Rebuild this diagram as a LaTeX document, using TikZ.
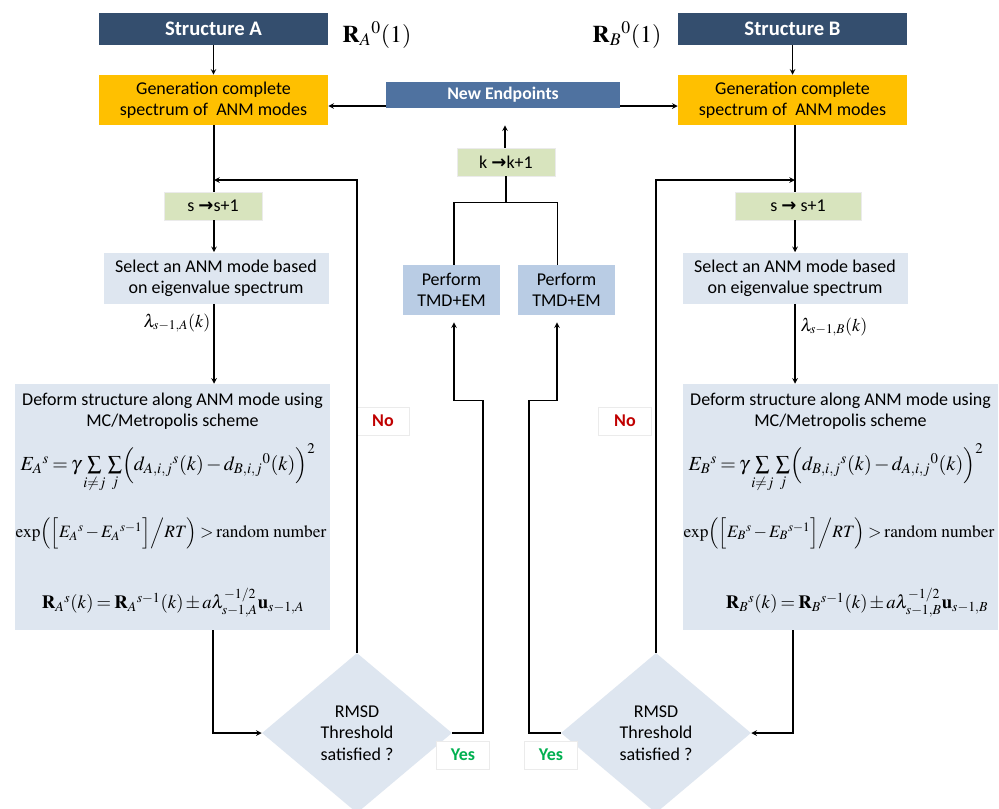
\documentclass[tikz,border=0pt]{standalone}
\usepackage{amsmath}
\usepackage{mathptmx}
\usepackage[no-math]{fontspec}
\setmainfont{Carlito}
\newfontfamily\arrowfont{DejaVu Sans}
\usepackage{tikz}
\usetikzlibrary{shapes,arrows}
\usetikzlibrary{positioning,calc}

\definecolor{structblue}{RGB}{52,78,110}
\definecolor{genyellow}{RGB}{255,192,0}
\definecolor{endblue}{RGB}{79,114,160}
\definecolor{stepgreen}{RGB}{216,228,190}
\definecolor{tmdblue}{RGB}{185,204,228}
\definecolor{paleblue}{RGB}{222,230,240}
\definecolor{noRed}{RGB}{192,0,0}
\definecolor{yesGreen}{RGB}{0,176,80}

\newcommand{\tightmath}{\thickmuskip=3mu\medmuskip=2mu}

\tikzstyle{arrow} = [line width=0.9pt,->,>=stealth]
\tikzstyle{link} = [line width=0.9pt]
\tikzstyle{structbox} = [rectangle, minimum width=171.75pt, minimum height=24pt,
    fill=structblue, text=white, font=\fontsize{15.5}{18}\selectfont\bfseries]
\tikzstyle{genbox} = [rectangle, minimum width=171.75pt, minimum height=37.5pt,
    fill=genyellow, align=center, font=\fontsize{13.5}{16}\selectfont]
\tikzstyle{stepbox} = [rectangle, minimum height=21pt, fill=stepgreen,
    draw=black!8, font=\fontsize{13.5}{16}\selectfont]
\tikzstyle{tmdbox} = [rectangle, minimum width=72.75pt, minimum height=37.5pt,
    fill=tmdblue, align=center, font=\fontsize{13.5}{16}\selectfont]
\tikzstyle{selbox} = [rectangle, minimum width=168.75pt, minimum height=38.25pt,
    fill=paleblue, align=center, font=\fontsize{13.5}{16}\selectfont]
\tikzstyle{defbox} = [rectangle, minimum width=236.25pt, minimum height=184.5pt, fill=paleblue]
\tikzstyle{check} = [diamond, aspect=1.19, inner sep=0pt, minimum width=142.5pt,
    minimum height=120pt, fill=paleblue, align=center, font=\fontsize{13.5}{16}\selectfont]
\tikzstyle{answer} = [rectangle, minimum width=39.75pt, minimum height=21pt, fill=white,
    draw=black!8, font=\fontsize{13.5}{16}\selectfont\bfseries]
\tikzstyle{formula} = [font=\fontsize{15}{17}\selectfont\tightmath, inner sep=0pt]
\tikzstyle{smallformula} = [font=\fontsize{14}{16}\selectfont\tightmath, inner sep=0pt]

\begin{document}
\begin{tikzpicture}[x=0.75pt, y=-0.75pt]
\useasboundingbox (0,0) rectangle (999,808);
\fill[white] (0,0) rectangle (999,808);

% starting structures
\node (strA) [structbox] at (213.5,29) {Structure A};
\node (strB) [structbox] at (792.5,29) {Structure B};
\node (RA) [font=\fontsize{18}{20}\selectfont] at (377,35) {$\mathbf{R}_{A}{}^{0}(1)$};
\node (RB) [font=\fontsize{18}{20}\selectfont] at (627,35) {$\mathbf{R}_{B}{}^{0}(1)$};

% ANM spectra and endpoints
\node (genA) [genbox] at (213.5,100) {Generation complete\\spectrum of~ ANM modes};
\node (genB) [genbox] at (792.5,100) {Generation complete\\spectrum of~ ANM modes};
\node (newEP) [rectangle, minimum width=175.5pt, minimum height=19.5pt, fill=endblue,
    text=white, font=\fontsize{13.3}{15}\selectfont\bfseries] at (503,95) {New Endpoints};

% outer iteration
\node (kstep) [stepbox, minimum width=73.5pt] at (506,162) {k {\arrowfont\bfseries →}k+1};
\node (perfL) [tmdbox] at (451.5,290) {Perform\\TMD+EM};
\node (perfR) [tmdbox] at (566.5,290) {Perform\\TMD+EM};

% column A
\node (sA) [stepbox, minimum width=73.5pt] at (213,206) {s {\arrowfont\bfseries →}s+1};
\node (selA) [selbox] at (216,278) {Select an ANM mode based\\on eigenvalue spectrum};
\node (lamA) [anchor=east, font=\fontsize{13.5}{16}\selectfont\tightmath, inner sep=1pt] at (212,323) {$\lambda_{s-1,A}(k)$};
\node (defA) [defbox] at (172.5,507) {};
\node (defAtitle) [align=center, font=\fontsize{13.5}{16}\selectfont] at (172.5,411)
    {Deform structure along ANM mode using\\MC/Metropolis scheme};
\node (eA) [formula] at (168,468)
    {$E_{A}{}^{s}=\gamma\sum\limits_{i\neq j}\sum\limits_{j}\Bigl(d_{A,i,j}{}^{s}(k)-d_{B,i,j}{}^{0}(k)\Bigr)^{2}$};
\node (expA) [smallformula, font=\fontsize{13}{15}\selectfont\tightmath] at (171,533)
    {$\exp\Bigl(\Bigl[E_{A}{}^{s}-E_{A}{}^{s-1}\Bigr]\Big/RT\Bigr)>\mathrm{random\ number}$};
\node (rA) [smallformula] at (173,603)
    {$\mathbf{R}_{A}{}^{s}(k)=\mathbf{R}_{A}{}^{s-1}(k)\pm a\lambda_{s-1,A}^{-1/2}\mathbf{u}_{s-1,A}$};
\node (diaA) [check] at (357,733) {RMSD\\Threshold\\satisfied ?};

% column B
\node (sB) [stepbox, minimum width=94.5pt] at (798,206) {s {\arrowfont\bfseries →} s+1};
\node (selB) [selbox] at (795,278) {Select an ANM mode based\\on eigenvalue spectrum};
\node (lamB) [anchor=west, font=\fontsize{13.5}{16}\selectfont\tightmath, inner sep=1pt] at (799,327) {$\lambda_{s-1,B}(k)$};
\node (defB) [defbox] at (840.5,507) {};
\node (defBtitle) [align=center, font=\fontsize{13.5}{16}\selectfont] at (840.5,411)
    {Deform structure along ANM mode using\\MC/Metropolis scheme};
\node (eB) [formula] at (836,468)
    {$E_{B}{}^{s}=\gamma\sum\limits_{i\neq j}\sum\limits_{j}\Bigl(d_{B,i,j}{}^{s}(k)-d_{A,i,j}{}^{0}(k)\Bigr)^{2}$};
\node (expB) [smallformula, font=\fontsize{13}{15}\selectfont\tightmath] at (839,533)
    {$\exp\Bigl(\Bigl[E_{B}{}^{s}-E_{B}{}^{s-1}\Bigr]\Big/RT\Bigr)>\mathrm{random\ number}$};
\node (rB) [smallformula] at (857,603)
    {$\mathbf{R}_{B}{}^{s}(k)=\mathbf{R}_{B}{}^{s-1}(k)\pm a\lambda_{s-1,B}^{-1/2}\mathbf{u}_{s-1,B}$};
\node (diaB) [check] at (656,733) {RMSD\\Threshold\\satisfied ?};

% decision labels
\node (noA) [answer, text=noRed] at (383,421) {No};
\node (noB) [answer, text=noRed] at (625,421) {No};
\node (yesA) [answer, text=yesGreen] at (463,755) {Yes};
\node (yesB) [answer, text=yesGreen] at (551,755) {Yes};

\coordinate (joinA) at (214,180);
\coordinate (joinB) at (795,180);

% connectors
\draw [arrow] (strA) -- (genA);
\draw [arrow] (strB) -- (genB);
\draw [arrow] ($(newEP.west)+(0,11)$) -- ($(genA.east |- newEP.west)+(0,11)$);
\draw [arrow] ($(newEP.east)+(0,11)$) -- ($(genB.west)+(0,6)$);
\draw [arrow] (kstep.north -| 505,0) -- ($(newEP.south -| 505,0)+(0,17)$);
\draw [link] (kstep.south) -- ++(0,26) -| ($(perfL.north)+(2.5,0)$);
\draw [link] (kstep.south) ++(0,26) -| ($(perfR.north)+(-9,0)$);

\draw [link] (genA.south -| joinA) -- (sA.north -| joinA);
\draw [arrow] (sA.south -| joinA) -- (selA.north -| joinA);
\draw [arrow] (selA.south -| joinA) -- (defA.north -| joinA);
\draw [arrow] (defA.south -| 213,0) |- (diaA.west);
\draw [arrow] (diaA.north) |- (joinA);
\draw [arrow] (diaA.east) -| ($(perfL.south)+(31.5,85)$) -| ($(perfL.south)+(2.5,7)$);

\draw [link] (genB.south -| joinB) -- (sB.north -| joinB);
\draw [arrow] (sB.south -| joinB) -- (selB.north -| joinB);
\draw [arrow] (selB.south -| joinB) -- (defB.north -| joinB);
\draw [arrow] (defB.south -| 793,0) |- (diaB.east);
\draw [arrow] (diaB.north) |- (joinB);
\draw [arrow] (diaB.west) -| ($(perfR.south)+(-37.5,85)$) -| ($(perfR.south)+(-9.5,7)$);
\end{tikzpicture}
\end{document}
